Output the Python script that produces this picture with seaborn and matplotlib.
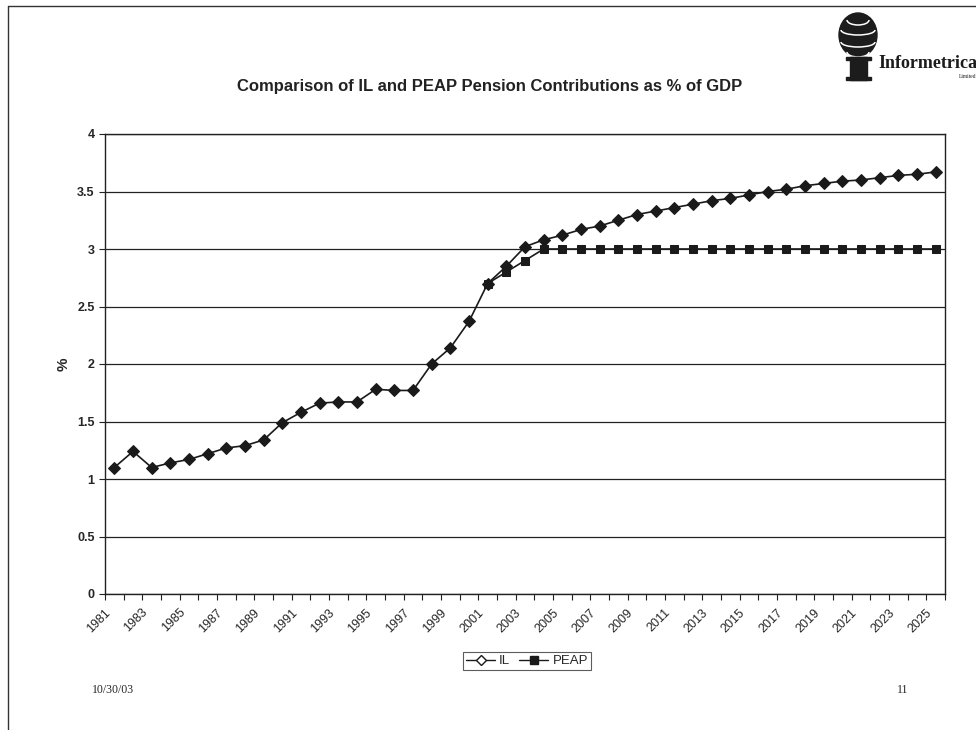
import numpy as np
import pandas as pd
import matplotlib
matplotlib.use("Agg")
import matplotlib.pyplot as plt
import matplotlib.transforms as mtransforms
import seaborn as sns
from matplotlib.lines import Line2D
from matplotlib.patches import Ellipse, Rectangle, Arc

sns.set_theme(style="white")
plt.rcParams['font.family'] = ['Liberation Sans', 'DejaVu Sans']

# ---------- data ----------
years = list(range(1981, 2026))
il = [1.10, 1.24, 1.10, 1.14, 1.17, 1.22, 1.27, 1.29, 1.34, 1.49,
      1.58, 1.66, 1.67, 1.67, 1.78, 1.77, 1.77, 2.00, 2.14, 2.37,
      2.70, 2.85, 3.02, 3.08, 3.12, 3.17, 3.20, 3.25, 3.30, 3.33,
      3.36, 3.39, 3.42, 3.44, 3.47, 3.50, 3.52, 3.55, 3.57, 3.59,
      3.60, 3.62, 3.64, 3.65, 3.67]
peap_years = list(range(2001, 2026))
peap = [2.70, 2.80, 2.90, 3.00] + [3.00] * 21

il_df = pd.DataFrame({"year": years, "value": il})
peap_df = pd.DataFrame({"year": peap_years, "value": peap})

# ---------- figure ----------
fig = plt.figure(figsize=(9.76, 7.30), dpi=100)
ax = fig.add_axes([105 / 976, 136 / 730, 840 / 976, 460 / 730])

sns.lineplot(data=il_df, x="year", y="value", ax=ax, color="#1a1a1a",
             marker="D", markersize=6, linewidth=1.2, markeredgecolor="#1a1a1a")
sns.lineplot(data=peap_df, x="year", y="value", ax=ax, color="#1a1a1a",
             marker="s", markersize=5.5, linewidth=1.2, markeredgecolor="#1a1a1a")

ax.set_xlim(1980.5, 2025.5)
ax.set_ylim(0, 4)
ax.set_yticks(np.arange(0, 4.01, 0.5))
ax.set_yticklabels(["0", "0.5", "1", "1.5", "2", "2.5", "3", "3.5", "4"],
                   fontsize=9, fontweight="bold")
ax.yaxis.grid(True, color="#222222", linewidth=0.9)
ax.xaxis.grid(False)

ax.set_xticks(years[::2])
ax.set_xticklabels([str(y) for y in years[::2]], rotation=45, ha="right",
                   rotation_mode="anchor", fontsize=9)
ax.set_xticks(np.arange(1980.5, 2026, 1.0), minor=True)
ax.tick_params(axis="x", which="major", length=0, pad=9)
ax.tick_params(axis="x", which="minor", length=4, width=0.8, color="#222222",
               direction="out", bottom=True)
ax.tick_params(axis="y", length=4, width=0.8, color="#222222", direction="out", left=True)
shift = mtransforms.ScaledTranslation(-10 / 100, 0, fig.dpi_scale_trans)
for lbl in ax.get_xticklabels():
    lbl.set_transform(lbl.get_transform() + shift)

for s in ax.spines.values():
    s.set_color("#222222")
    s.set_linewidth(1.0)

ax.set_xlabel("")
ax.set_ylabel("%", fontsize=11, fontweight="bold", labelpad=5)

fig.text(490 / 976, 1 - 86 / 730, "Comparison of IL and PEAP Pension Contributions as % of GDP",
         ha="center", va="center", fontsize=12, fontweight="bold", color="#222222")

# legend
handles = [
    Line2D([], [], color="#1a1a1a", marker="D", markerfacecolor="white",
           markeredgecolor="#1a1a1a", markersize=5, linewidth=1.0),
    Line2D([], [], color="#1a1a1a", marker="s", markersize=5.5, linewidth=1.0),
]
leg = fig.legend(handles, ["IL", "PEAP"], loc="center", ncol=2,
                 bbox_to_anchor=(527 / 976, 1 - 661 / 730), fontsize=9.5,
                 frameon=True, fancybox=False, edgecolor="#333333",
                 handlelength=2.2, handletextpad=0.3, columnspacing=0.7,
                 borderpad=0.25)
leg.get_frame().set_linewidth(0.8)

# footer
fig.text(92 / 976, 1 - 690 / 730, "10/30/03", ha="left", va="center",
         fontsize=8.5, family=["Liberation Serif", "DejaVu Serif"])
fig.text(903 / 976, 1 - 690 / 730, "11", ha="center", va="center",
         fontsize=8.5, family=["Liberation Serif", "DejaVu Serif"])

# page frame
fig.add_artist(Line2D([8 / 976, 8 / 976], [0, 1 - 6 / 730], color="#333333",
                      linewidth=1.0, transform=fig.transFigure))
fig.add_artist(Line2D([8 / 976, 1], [1 - 6 / 730, 1 - 6 / 730], color="#333333",
                      linewidth=1.0, transform=fig.transFigure))

# logo (drawn in pixel coordinates of the page)
lax = fig.add_axes([830 / 976, 1 - 95 / 730, 146 / 976, 87 / 730])
lax.set_xlim(830, 976)
lax.set_ylim(95, 8)
lax.axis("off")
lax.add_patch(Ellipse((858, 35), 38, 44, color="#1c1c1c"))
for yy, w in ((20, 22), (30, 34), (42, 34), (52, 22)):
    lax.add_patch(Arc((858, yy), w, 10, theta1=0, theta2=180,
                      color="white", linewidth=1.1))
lax.add_patch(Rectangle((850, 57), 17, 23, color="#1c1c1c"))
lax.add_patch(Rectangle((846, 57), 25, 3, color="#1c1c1c"))
lax.add_patch(Rectangle((846, 77), 25, 3, color="#1c1c1c"))
lax.text(878, 64, "Informetrica", ha="left", va="center", fontsize=13,
         fontweight="bold", family=["Liberation Serif", "DejaVu Serif"],
         color="#1c1c1c", clip_on=False)
lax.text(976, 76, "Limited", ha="right", va="center", fontsize=4,
         family=["Liberation Serif", "DejaVu Serif"], color="#1c1c1c")

fig.savefig("out.png", dpi=100)
